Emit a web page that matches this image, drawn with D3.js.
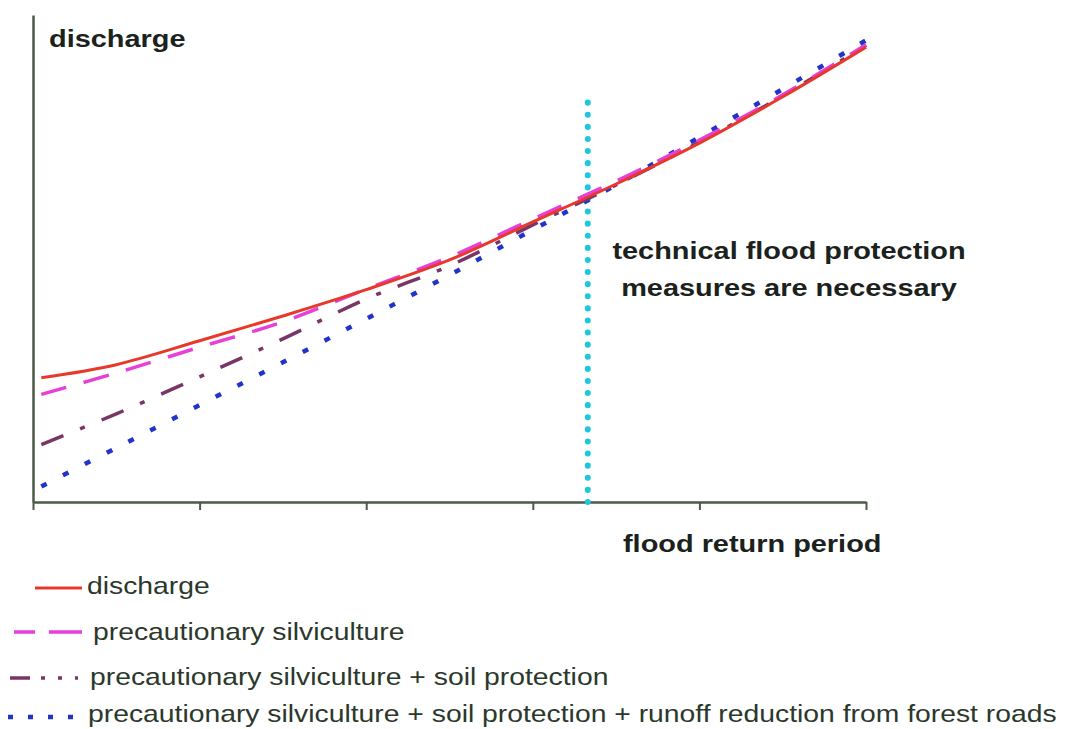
<!DOCTYPE html>
<html>
<head>
<meta charset="utf-8">
<script src="https://cdn.jsdelivr.net/npm/d3@7"></script>
<style>
  html, body { margin: 0; padding: 0; background: #ffffff; }
  svg { display: block; }
  text { font-family: "Liberation Sans", Arial, sans-serif; }
</style>
</head>
<body>
<svg id="chart" width="1079" height="729"></svg>
<script>
// Flood return period (x) against discharge (y), in axis units
const returnPeriod = [0.05, 0.5, 1, 1.5, 2, 2.5, 3, 3.5, 4, 4.5, 5];
const xTicks = [0, 1, 2, 3, 4, 5];

// Discharge for each management scenario
const discharge          = [25.5, 28.2, 33.1, 38.2, 43.6, 49.7, 57.5, 65.3, 73.7, 83.2, 93.4];
const silviculture       = [22.1, 26.5, 31.8, 37.0, 43.7, 50.3, 58.1, 65.9, 74.3, 83.6, 93.9];
const silvicultureSoil   = [11.8, 18.1, 25.7, 33.5, 41.7, 48.5, 56.9, 65.1, 73.9, 83.4, 93.8];
const silvicultureRoads  = [3.2, 11.1, 19.9, 28.7, 37.6, 46.6, 55.9, 65.1, 74.9, 84.8, 94.8];

// Return period beyond which technical measures are needed
const thresholdPeriod = 3.33;
const thresholdTop = 82.5;

const seriesNames = [
  "discharge",
  "precautionary silviculture",
  "precautionary silviculture + soil protection",
  "precautionary silviculture + soil protection + runoff reduction from forest roads"
];
const seriesValues = [discharge, silviculture, silvicultureSoil, silvicultureRoads];

const styles = [
  { color: "#e8382c", width: 3,   dash: null,          legendDash: null,                     lx: [35, 82] },
  { color: "#e640d8", width: 3.5, dash: "26,18",       legendDash: "21,14,33",               lx: [14, 82] },
  { color: "#7a3568", width: 3.5, dash: "24,18,5,18",  legendDash: "20,11,4,13,4,13,3",      lx: [10, 82] },
  { color: "#2233cc", width: 4.5, dash: "6,18.5",      legendDash: "5,15",                   lx: [8, 76] }
];

const svg = d3.select("#chart");

const x = d3.scaleLinear().domain([0, 5]).range([33, 866]);
const y = d3.scaleLinear().domain([0, 100]).range([502, 15]);

const axisColor = "#4b5a48";

// x axis with downward ticks
const gx = svg.append("g")
  .attr("transform", `translate(0,${y(0)})`)
  .call(d3.axisBottom(x).tickValues(xTicks).tickSize(8).tickSizeOuter(0).tickFormat(""));
gx.select(".domain").attr("stroke", axisColor).attr("stroke-width", 2.5);
gx.selectAll(".tick line").attr("stroke", axisColor).attr("stroke-width", 2);

// y axis without ticks
const gy = svg.append("g")
  .attr("transform", `translate(${x(0)},0)`)
  .call(d3.axisLeft(y).tickValues([]).tickSizeOuter(0));
gy.select(".domain").attr("stroke", axisColor).attr("stroke-width", 2.5);

// Threshold line
svg.append("line")
  .attr("x1", x(thresholdPeriod)).attr("x2", x(thresholdPeriod))
  .attr("y1", y(0)).attr("y2", y(thresholdTop))
  .attr("stroke", "#1ec8dc")
  .attr("stroke-width", 6)
  .attr("stroke-linecap", "round")
  .attr("stroke-dasharray", "0.1,12");

// Scenario curves (drawn from the most reduced up to the plain discharge on top)
const line = d3.line()
  .x((d, i) => x(returnPeriod[i]))
  .y(d => y(d))
  .curve(d3.curveCatmullRom.alpha(0.5));

[3, 2, 1, 0].forEach(k => {
  const s = styles[k];
  svg.append("path")
    .datum(seriesValues[k])
    .attr("d", line)
    .attr("fill", "none")
    .attr("stroke", s.color)
    .attr("stroke-width", s.width)
    .attr("stroke-dasharray", s.dash)
    .attr("stroke-linejoin", "round");
});

// Axis titles and annotation
const sx = 1.18;
function stretchedText(txt, tx, ty, size, weight, anchor, color) {
  svg.append("text")
    .attr("transform", `translate(${tx},${ty}) scale(${sx},1)`)
    .attr("font-size", size)
    .attr("font-weight", weight)
    .attr("text-anchor", anchor)
    .attr("fill", color)
    .text(txt);
}

const boldColor = "#1b211b";
stretchedText("discharge", 49, 47, 24.5, "bold", "start", boldColor);
stretchedText("flood return period", 623, 552, 24.5, "bold", "start", boldColor);
stretchedText("technical flood protection", 789, 259, 24.5, "bold", "middle", boldColor);
stretchedText("measures are necessary", 789, 296, 24.5, "bold", "middle", boldColor);

// Legend
const legendRowY = [588, 632, 678, 717];
const legendTextX = [87, 93, 90, 88];
const legendTextY = [594, 640, 685, 722];
seriesNames.forEach((name, k) => {
  const s = styles[k];
  svg.append("line")
    .attr("x1", s.lx[0]).attr("x2", s.lx[1])
    .attr("y1", legendRowY[k]).attr("y2", legendRowY[k])
    .attr("stroke", s.color)
    .attr("stroke-width", s.width)
    .attr("stroke-dasharray", s.legendDash);
  stretchedText(name, legendTextX[k], legendTextY[k], 24, "normal", "start", "#2b382b");
});
</script>
</body>
</html>
